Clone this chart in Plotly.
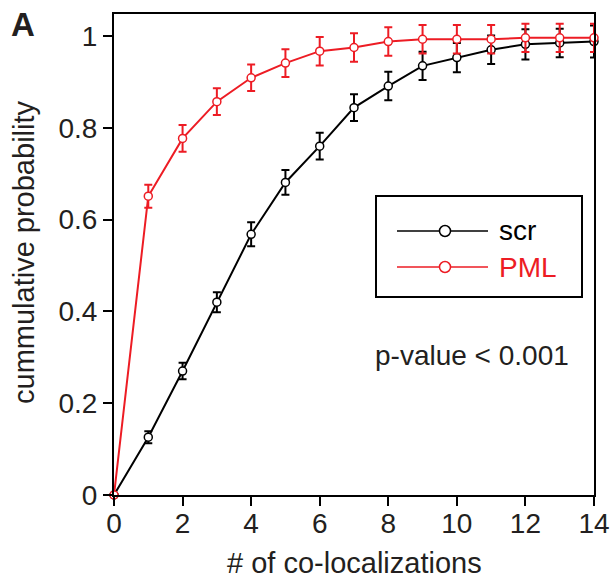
import plotly.graph_objects as go

# ---- data ----
colocalizations = list(range(0, 15))
scr_values = [0, 0.126, 0.270, 0.420, 0.568, 0.681, 0.760, 0.844, 0.891, 0.935, 0.953, 0.970, 0.982, 0.985, 0.988]
scr_errors = [0, 0.013, 0.018, 0.022, 0.026, 0.027, 0.029, 0.029, 0.031, 0.031, 0.032, 0.031, 0.033, 0.031, 0.035]
pml_values = [0, 0.651, 0.777, 0.857, 0.909, 0.941, 0.967, 0.975, 0.988, 0.993, 0.993, 0.993, 0.996, 0.996, 0.996]
pml_errors = [0, 0.025, 0.029, 0.029, 0.029, 0.030, 0.031, 0.031, 0.031, 0.031, 0.031, 0.031, 0.031, 0.031, 0.031]
series_names = ["scr", "PML"]
x_ticks = [0, 2, 4, 6, 8, 10, 12, 14]
y_ticks = [0, 0.2, 0.4, 0.6, 0.8, 1.0]
y_tick_labels = ["0", "0.2", "0.4", "0.6", "0.8", "1"]

BLACK = "#000000"
RED = "#ED1C24"
TEXT = "#231F20"
FONT = "Liberation Sans, Arial, Helvetica, sans-serif"

W, H = 612, 586
ML, MR, MT, MB = 114, 18, 14, 91
PW, PH = W - ML - MR, H - MT - MB


def px(xp):
    """window pixel x -> paper coordinate"""
    return (xp - ML) / PW


def py(yp):
    """window pixel y -> paper coordinate"""
    return (H - MB - yp) / PH


fig = go.Figure()
for name, vals, errs, col in [
    (series_names[0], scr_values, scr_errors, BLACK),
    (series_names[1], pml_values, pml_errors, RED),
]:
    fig.add_trace(go.Scatter(
        x=colocalizations, y=vals, name=name, mode="lines+markers",
        line=dict(color=col, width=2),
        marker=dict(symbol="circle", size=8, color="white", line=dict(color=col, width=1.5)),
        error_y=dict(type="data", array=errs, visible=True, color=col, thickness=2, width=4),
        cliponaxis=False, showlegend=False,
    ))

# manual legend
shapes = [
    dict(type="rect", xref="paper", yref="paper", x0=px(376), x1=px(582), y0=py(297), y1=py(196),
         line=dict(color=BLACK, width=2), fillcolor="white", layer="above"),
]
annotations = []
for i, (name, col) in enumerate([(series_names[0], BLACK), (series_names[1], RED)]):
    yl = 231 + i * 36
    shapes.append(dict(type="line", xref="paper", yref="paper", x0=px(397), x1=px(488), y0=py(yl), y1=py(yl),
                       line=dict(color=col, width=1.5), layer="above"))
    shapes.append(dict(type="circle", xref="paper", yref="paper", x0=px(439.5), x1=px(450.5),
                       y0=py(yl + 5.5), y1=py(yl - 5.5), line=dict(color=col, width=1.5),
                       fillcolor="white", layer="above"))
    annotations.append(dict(xref="paper", yref="paper", x=px(497), y=py(yl), xanchor="left", yanchor="middle",
                            text=name, showarrow=False, font=dict(family=FONT, size=28, color=col)))

annotations.append(dict(xref="paper", yref="paper", x=px(373), y=py(356), xanchor="left", yanchor="middle",
                        text="p-value < 0.001", showarrow=False, font=dict(family=FONT, size=28, color=TEXT)))
annotations.append(dict(xref="paper", yref="paper", x=px(9), y=py(24), xanchor="left", yanchor="middle",
                        text="<b>A</b>", showarrow=False, font=dict(family=FONT, size=33, color=TEXT)))
# axis titles
annotations.append(dict(xref="paper", yref="paper", x=0.5, y=py(563), xanchor="center", yanchor="middle",
                        text="# of co-localizations", showarrow=False, font=dict(family=FONT, size=29, color=TEXT)))
annotations.append(dict(xref="paper", yref="paper", x=px(24), y=py(252), xanchor="center", yanchor="middle",
                        textangle=-90, text="cummulative probability", showarrow=False,
                        font=dict(family=FONT, size=29, color=TEXT)))

fig.update_layout(
    width=W, height=H,
    margin=dict(l=ML, r=MR, t=MT, b=MB, autoexpand=False),
    paper_bgcolor="white", plot_bgcolor="white",
    font=dict(family=FONT, size=28, color=TEXT),
    shapes=shapes, annotations=annotations,
    xaxis=dict(range=[0, 14], tickvals=x_ticks, ticktext=[str(v) for v in x_ticks], automargin=False,
               showgrid=False, zeroline=False, showline=True, linecolor=BLACK, linewidth=2, mirror=True,
               ticks="outside", ticklen=9, tickwidth=2, tickcolor=BLACK, ticklabelstandoff=-7,
               tickfont=dict(family=FONT, size=28, color=TEXT)),
    yaxis=dict(range=[0, 1.048], tickvals=y_ticks, ticktext=y_tick_labels, automargin=False,
               showgrid=False, zeroline=False, showline=True, linecolor=BLACK, linewidth=2, mirror=True,
               ticks="outside", ticklen=9, tickwidth=2, tickcolor=BLACK,
               tickfont=dict(family=FONT, size=28, color=TEXT)),
)

# let the figure fill the window exactly: drop the page's default 8px body margin and scrollbars
page_css = ("document.documentElement.style.margin='0';document.documentElement.style.overflow='hidden';"
            "document.body.style.margin='0';document.body.style.overflow='hidden';")
fig.write_html("out.html", post_script=page_css, config={"displayModeBar": False})
